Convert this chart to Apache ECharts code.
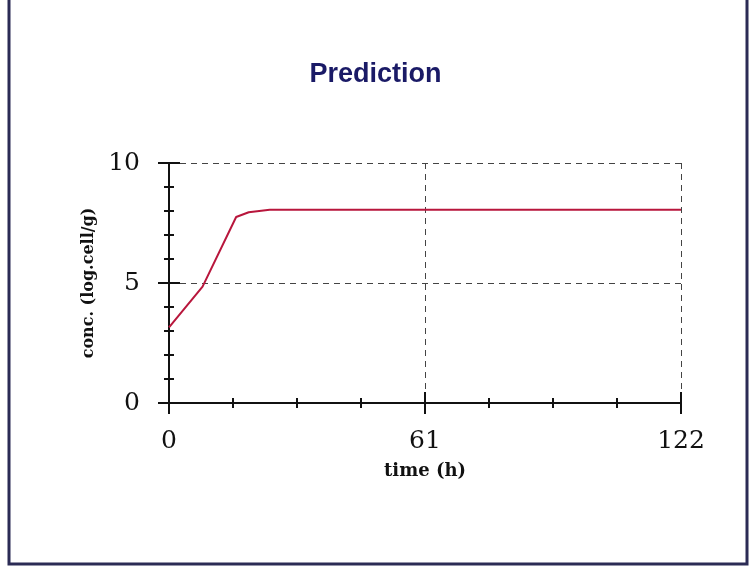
<!DOCTYPE html>
<html>
<head>
<meta charset="utf-8">
<script src="https://cdn.jsdelivr.net/npm/echarts@6/dist/echarts.min.js"></script>
<style>
  html, body { margin: 0; padding: 0; background: #fff; }
  #chart { width: 751px; height: 568px; }
</style>
</head>
<body>
<div id="chart"></div>
<script>
// data
const times = [0, 8, 16, 19, 24, 122];
const conc = [3.15, 4.85, 7.75, 7.95, 8.05, 8.05];
const xTicks = [0, 61, 122];
const yTicks = [0, 5, 10];

const chart = echarts.init(document.getElementById("chart"));

const serif = "DejaVu Serif";
const tickFont = { fontFamily: serif, fontSize: 25, color: "#111" };
const gridBox = { left: 169, right: 70, top: 163, bottom: 165 };
const ink = { color: "#111", width: 2 };

// grid 0: axis line, labels, dashed grid lines
// grid 1: major ticks, axis shifted inward 11px so the ticks cross the line
// grid 2: minor ticks, shifted inward 5px
const shift = [0, -11, -5];

function xAx(g) {
  return {
    type: "value",
    gridIndex: g,
    position: "bottom",
    offset: shift[g],
    min: xTicks[0],
    max: xTicks[xTicks.length - 1],
    interval: xTicks[1] - xTicks[0],
    name: g === 0 ? "time (h)" : "",
    nameLocation: "middle",
    nameGap: 59,
    nameTextStyle: { fontFamily: serif, fontSize: 18, fontWeight: "bold", color: "#111" },
    axisLine: { show: g === 0, onZero: false, lineStyle: ink },
    axisTick: { show: g > 0, length: g === 1 ? 22 : 10, lineStyle: ink },
    minorTick: { show: g === 2, splitNumber: 4, length: 10, lineStyle: ink },
    axisLabel: { show: g === 0, margin: 26, ...tickFont },
    splitLine: {
      show: g === 0,
      lineStyle: { color: "#444", type: [6, 5], width: 1 }
    }
  };
}
function yAx(g) {
  return {
    type: "value",
    gridIndex: g,
    position: "left",
    offset: shift[g],
    min: yTicks[0],
    max: yTicks[yTicks.length - 1],
    interval: yTicks[1] - yTicks[0],
    name: g === 0 ? "conc. (log.cell/g)" : "",
    nameLocation: "middle",
    nameGap: 72,
    nameTextStyle: { fontFamily: serif, fontSize: 16, fontWeight: "bold", color: "#111" },
    axisLine: { show: g === 0, onZero: false, lineStyle: ink },
    axisTick: { show: g > 0, length: g === 1 ? 22 : 10, lineStyle: ink },
    minorTick: { show: g === 2, splitNumber: 5, length: 10, lineStyle: ink },
    axisLabel: { show: g === 0, margin: 29, ...tickFont },
    splitLine: {
      show: g === 0,
      lineStyle: { color: "#444", type: [6, 5], width: 1 }
    }
  };
}

const lineData = times.map((t, i) => [t, conc[i]]);

const option = {
  backgroundColor: "#fff",
  animation: false,
  title: {
    text: "Prediction",
    left: "center",
    top: 56,
    textStyle: { fontFamily: "Liberation Sans", fontSize: 27, fontWeight: "bold", color: "#1a1a66" }
  },
  grid: [{ ...gridBox }, { ...gridBox }, { ...gridBox }],
  xAxis: [xAx(0), xAx(1), xAx(2)],
  yAxis: [yAx(0), yAx(1), yAx(2)],
  graphic: [
    {
      type: "rect",
      shape: { x: 9, y: -5, width: 738, height: 569 },
      style: { fill: "none", stroke: "#2b2b55", lineWidth: 3 },
      silent: true
    }
  ],
  series: [0, 1, 2].map((g) => ({
    type: "line",
    xAxisIndex: g,
    yAxisIndex: g,
    data: lineData,
    symbol: "none",
    lineStyle: { color: "#b8163c", width: 2, opacity: g === 0 ? 1 : 0 }
  }))
};

chart.setOption(option);
</script>
</body>
</html>
